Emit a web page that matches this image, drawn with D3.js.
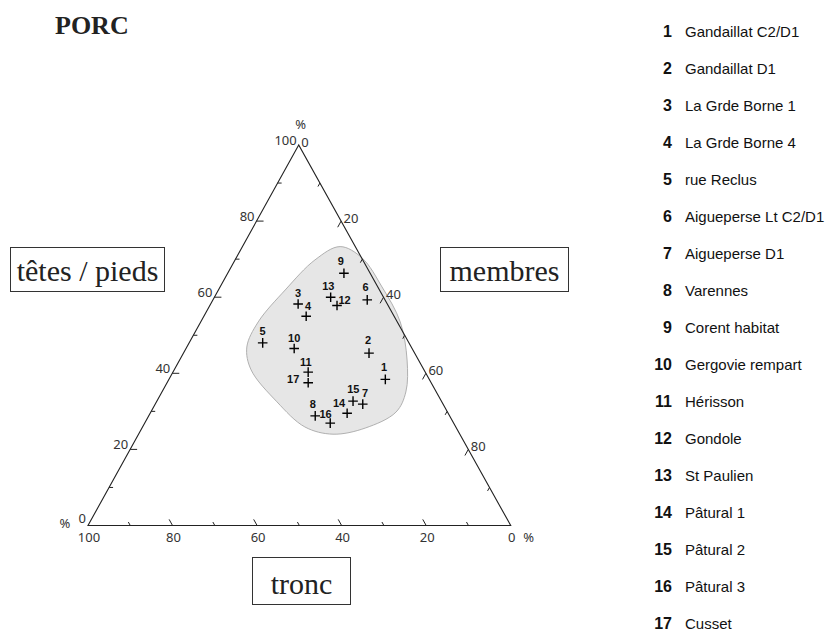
<!DOCTYPE html>
<html><head><meta charset="utf-8">
<script src="https://cdn.jsdelivr.net/npm/d3@7"></script>
<style>body{margin:0;background:#fff}svg{display:block}</style>
</head><body><svg id="c" width="830" height="630"></svg>
<script>
// ---- data ----
const ids = [1,2,3,4,5,6,7,8,9,10,11,12,13,14,15,16,17];
const sites = ["Gandaillat C2/D1","Gandaillat D1","La Grde Borne 1","La Grde Borne 4","rue Reclus",
  "Aigueperse Lt C2/D1","Aigueperse D1","Varennes","Corent habitat","Gergovie rempart","Hérisson",
  "Gondole","St Paulien","Pâtural 1","Pâtural 2","Pâtural 3","Cusset"];
// percentages: têtes / pieds, membres, tronc
const tetes   = [38.4,45.3,58.2,55.0,48.0,59.3,31.9,28.8,66.3,46.5,40.3,57.8,60.0,29.5,32.7,26.9,37.5];
const membres = [51.2,43.9,20.7,24.2,17.4,36.5,49.1,39.4,27.5,25.6,32.0,30.1,27.5,46.6,46.4,43.9,33.4];
const tronc   = [10.4,10.8,21.1,20.8,34.6, 4.2,19.0,31.8, 6.2,27.9,27.7,12.1,12.5,23.9,20.9,29.2,29.1];
// outline of the shaded group (têtes, membres)
const hullTetes   = [73.3,70.3,62.7,53.5,43.5,35.1,29.8,25.6,24.0,25.9,32.5,40.9,46.9,53.5,61.9,69.8];
const hullMembres = [23.1,29.8,38.3,47.2,53.8,57.7,58.0,52.8,46.0,38.4,28.5,18.2,14.2,13.6,15.8,18.9];
const tickValues = [0,10,20,30,40,50,60,70,80,90,100];
const majorTicks = [0,20,40,60,80,100];

// ---- layout ----
const svg = d3.select("#c");
const yT = d3.scaleLinear().domain([0,100]).range([525.5,145]);   // têtes -> vertical
const xM = d3.scaleLinear().domain([0,100]).range([0,422.7]);      // membres -> horizontal
const xTs = d3.scaleLinear().domain([0,100]).range([0,210.7]);     // têtes -> horizontal shear
const x0 = 88;
function proj(t,m){ return [x0 + xM(m) + xTs(t), yT(t)]; }

const axisColor = "#222", labColor = "#333";
const tickFont = "'Noto Sans', 'DejaVu Sans', sans-serif";

// hull
const hullPts = hullTetes.map((t,i)=>proj(t,hullMembres[i]));
svg.append("path")
  .attr("d", d3.line().curve(d3.curveCatmullRomClosed.alpha(0.5))(hullPts))
  .attr("fill","#e6e6e6").attr("stroke","#b0b0b0").attr("stroke-width",1);

// triangle
const A = proj(100,0), BL = proj(0,0), BR = proj(0,100);
svg.append("path").attr("d", d3.line()([A,BL,BR]) + "Z")
  .attr("fill","none").attr("stroke",axisColor).attr("stroke-width",1.1);

function tick(p, q, len){
  const dx=q[0]-p[0], dy=q[1]-p[1], n=Math.hypot(dx,dy);
  svg.append("line").attr("x1",p[0]).attr("y1",p[1])
    .attr("x2",p[0]+dx/n*len).attr("y2",p[1]+dy/n*len)
    .attr("stroke",axisColor).attr("stroke-width",1);
}
tickValues.forEach(v=>{
  const major = majorTicks.includes(v);
  const len = major ? 7 : 4;
  if (v>0 && v<100){
    tick(proj(v,0), proj(v,10), len);          // têtes
    tick(proj(100-v,v), proj(90-v,v), len);    // membres
    tick(proj(0,100-v), proj(10,90-v), len);   // tronc
  }
});
const tl = svg.append("g").attr("font-family",tickFont).attr("font-size",13).attr("fill",labColor);
majorTicks.forEach(v=>{
  const pl = proj(v,0);
  tl.append("text").attr("x",pl[0]-2).attr("y",v===0 ? pl[1]-2.5 : pl[1]).attr("text-anchor","end").text(v);
  if (v<100){
    const pr = proj(100-v,v);
    tl.append("text").attr("x",pr[0]+2.5).attr("y",pr[1]+2).attr("text-anchor","start").text(v);
  }
  const pb = proj(0,100-v);
  tl.append("text").attr("x",pb[0]+1).attr("y",541.5).attr("text-anchor","middle").text(v);
});
tl.append("text").attr("x",A[0]+2).attr("y",A[1]-16).attr("text-anchor","middle").text("%");
tl.append("text").attr("x",BL[0]-23).attr("y",BL[1]+2).attr("text-anchor","middle").text("%");
tl.append("text").attr("x",BR[0]+18).attr("y",541.5).attr("text-anchor","middle").text("%");

// points
const labelOffset = {1:[-1.3,-12],2:[-1,-12.7],3:[0,-11.3],4:[2,-9.7],5:[0,-12],6:[-1.7,-12.3],
  7:[2.3,-10.7],8:[-2.3,-11.7],9:[-3,-11.7],10:[0,-10.7],11:[-2.3,-9.7],12:[7.5,-5.7],13:[-2.3,-10.7],
  14:[-8,-10],15:[0.3,-11.7],16:[-4.7,-9.3],17:[-15,-3.3]};
const pts = svg.append("g");
ids.forEach((id,i)=>{
  const p = proj(tetes[i], membres[i]);
  pts.append("path").attr("transform",`translate(${p[0]},${p[1]})`)
    .attr("d","M-4.8,0H4.8M0,-4.8V4.8").attr("stroke","#000").attr("stroke-width",1.4).attr("fill","none");
  const o = labelOffset[id];
  pts.append("text").attr("x",p[0]+o[0]).attr("y",p[1]+o[1]+3.8)
    .attr("text-anchor","middle").attr("font-family","'Liberation Sans', Arial, sans-serif")
    .attr("font-weight","bold").attr("font-size",11).attr("fill","#111").text(id);
});

// axis name boxes
const serif = "'Liberation Serif', 'Times New Roman', serif";
function box(x,y,w,h,label){
  svg.append("rect").attr("x",x).attr("y",y).attr("width",w).attr("height",h)
    .attr("fill","#fff").attr("stroke","#333").attr("stroke-width",1);
  svg.append("text").attr("x",x+w/2).attr("y",y+h-11).attr("text-anchor","middle")
    .attr("font-family",serif).attr("font-size",30).attr("fill","#222").text(label);
}
box(10.5,247.5,154,44,"têtes / pieds");
box(440.5,247.5,128,44,"membres");
box(252.5,557.5,98,47,"tronc");

// title
svg.append("text").attr("x",55).attr("y",34).attr("font-family",serif)
  .attr("font-weight","bold").attr("font-size",26).attr("fill","#222").text("PORC");

// legend
const lg = svg.append("g").attr("font-family","'Liberation Sans', Arial, sans-serif").attr("fill","#111");
ids.forEach((id,i)=>{
  const y = 36.5 + 37*i;
  lg.append("text").attr("x",672).attr("y",y).attr("text-anchor","end").attr("font-weight","bold")
    .attr("font-size",16).text(id);
  lg.append("text").attr("x",685).attr("y",y).attr("font-size",15).text(sites[i]);
});
</script></body></html>
